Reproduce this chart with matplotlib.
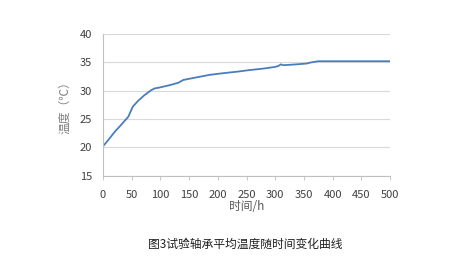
import matplotlib
matplotlib.use("Agg")
import matplotlib.pyplot as plt

plt.rcParams["font.family"] = ["Noto Sans CJK SC", "DejaVu Sans"]

# test time (h) and mean bearing temperature (deg C)
time_h = [0, 10, 20, 30, 44, 52, 61, 72, 84, 90, 100, 117, 131, 140, 160, 186,
          210, 233, 256, 279, 300, 306, 310, 314, 330, 343, 355, 363, 375, 400,
          450, 500]
temp_c = [20.2, 21.4, 22.7, 23.8, 25.4, 27.2, 28.2, 29.2, 30.1, 30.4, 30.6, 31.0,
          31.4, 31.9, 32.3, 32.8, 33.1, 33.35, 33.65, 33.9, 34.2, 34.4, 34.65, 34.5,
          34.6, 34.7, 34.8, 35.0, 35.2, 35.2, 35.2, 35.2]

x_ticks = [0, 50, 100, 150, 200, 250, 300, 350, 400, 450, 500]
y_ticks = [15, 20, 25, 30, 35, 40]

fig = plt.figure(figsize=(4.66, 2.70), dpi=100)
ax = fig.add_axes([0.221, 0.349, 0.616, 0.525])

ax.plot(time_h, temp_c, color="#4A7EBB", linewidth=1.3)

ax.set_xlim(0, 500)
ax.set_ylim(15, 40)
ax.set_xticks(x_ticks)
ax.set_yticks(y_ticks)
ax.grid(axis="y", color="#D9D9D9", linewidth=0.8)
ax.set_axisbelow(True)

for side in ["top", "right"]:
    ax.spines[side].set_visible(False)
for side in ["left", "bottom"]:
    ax.spines[side].set_color("#BFBFBF")
    ax.spines[side].set_linewidth(0.8)

ax.tick_params(axis="x", length=3, width=0.6, color="#BFBFBF", pad=7,
               labelsize=8, labelcolor="#404040")
ax.tick_params(axis="y", length=0, pad=8, labelsize=8, labelcolor="#404040")

ax.set_xlabel("时间/h", fontsize=8.5, color="#595959", labelpad=0)
ax.set_ylabel("温度（℃）", fontsize=8.5, color="#7F7F7F", labelpad=6)

fig.text(0.526, 0.095, "图3试验轴承平均温度随时间变化曲线", ha="center", va="center",
         fontsize=8.5, color="#202020")

fig.savefig("out.png", dpi=100)
